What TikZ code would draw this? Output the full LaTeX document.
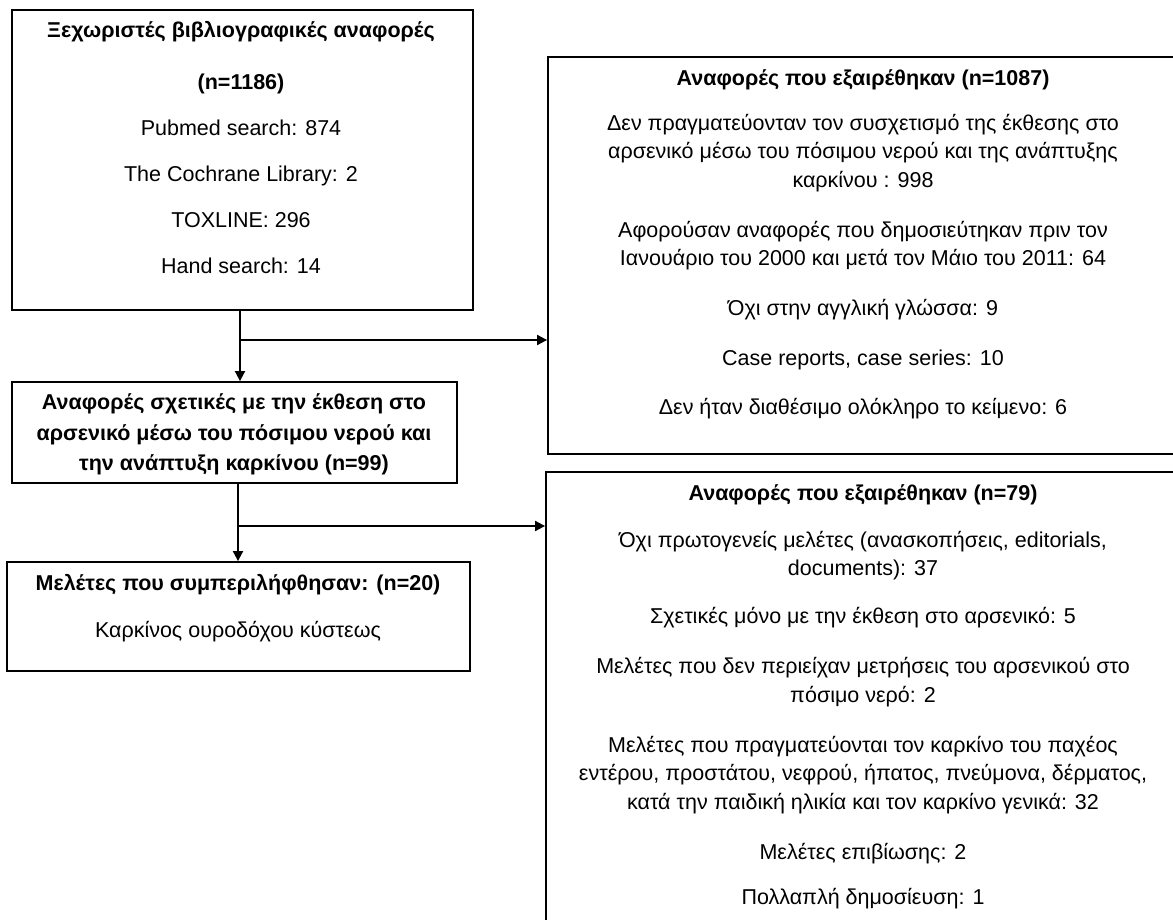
\documentclass[tikz,border=0pt]{standalone}
\usepackage{fontspec}
\setmainfont{Liberation Sans}
\usetikzlibrary{arrows.meta,fit}

\begin{document}
\begin{tikzpicture}[
    x=0.5pt, y=-0.5pt,
    frame/.style={draw, line width=0.9pt, inner sep=0pt},
    txt/.style={anchor=north, align=center, inner sep=0pt,
                font=\fontsize{10.75}{14.25}\selectfont},
    flow/.style={line width=0.9pt, -{Triangle[length=5pt,width=5pt]}},
    ]
    \useasboundingbox (0,0) rectangle (1173,920);

    % Frames
    \node[frame, fit={(12,10) (473,310)}] (src) {};
    \node[frame, fit={(12,382) (457,483)}] (rel) {};
    \node[frame, fit={(7,562) (470,671)}] (inc) {};
    \node[frame, fit={(548,57) (1180,454)}] (excl1) {};
    \node[frame, fit={(546,472) (1180,940)}] (excl2) {};

    % Records identified
    \node[txt] (srctxt) at (241,17) {\strut\textbf{Ξεχωριστές βιβλιογραφικές αναφορές}\\[11.75pt]
        \textbf{(n=1186)}\\[8.75pt]
        Pubmed search: 874\\[8.75pt]
        The Cochrane Library: 2\\[8.75pt]
        TOXLINE: 296\\[8.75pt]
        Hand search: 14};

    % Relevant records
    \node[txt, font=\fontsize{10.75}{15.25}\selectfont\bfseries] (reltxt) at (234,388)
        {\strut Αναφορές σχετικές με την έκθεση στο\\
         αρσενικό μέσω του πόσιμου νερού και\\
         την ανάπτυξη καρκίνου (n=99)};

    % Included studies
    \node[txt] (inctxt) at (238,570) {\strut\textbf{Μελέτες που συμπεριλήφθησαν: (n=20)}\\[9.25pt]
        Καρκίνος ουροδόχου κύστεως};

    % First exclusion
    \node[txt] (excl1txt) at (863,65) {\strut\textbf{Αναφορές που εξαιρέθηκαν (n=1087)}\\[8.25pt]
        Δεν πραγματεύονταν τον συσχετισμό της έκθεσης στο\\
        αρσενικό μέσω του πόσιμου νερού και της ανάπτυξης\\
        καρκίνου : 998\\[10.75pt]
        Αφορούσαν αναφορές που δημοσιεύτηκαν πριν τον\\
        Ιανουάριο του 2000 και μετά τον Μάιο του 2011: 64\\[10.75pt]
        Όχι στην αγγλική γλώσσα: 9\\[10.75pt]
        Case reports, case series: 10\\[10.25pt]
        Δεν ήταν διαθέσιμο ολόκληρο το κείμενο: 6};

    % Second exclusion
    \node[txt] (excl2txt) at (863,480) {\strut\textbf{Αναφορές που εξαιρέθηκαν (n=79)}\\[9.25pt]
        Όχι πρωτογενείς μελέτες (ανασκοπήσεις, editorials,\\
        documents): 37\\[9.75pt]
        Σχετικές μόνο με την έκθεση στο αρσενικό: 5\\[10.75pt]
        Μελέτες που δεν περιείχαν μετρήσεις του αρσενικού στο\\
        πόσιμο νερό: 2\\[10.75pt]
        Μελέτες που πραγματεύονται τον καρκίνο του παχέος\\
        εντέρου, προστάτου, νεφρού, ήπατος, πνεύμονα, δέρματος,\\
        κατά την παιδική ηλικία και τον καρκίνο γενικά: 32\\[10.75pt]
        Μελέτες επιβίωσης: 2\\[8.25pt]
        Πολλαπλή δημοσίευση: 1};

    % Connectors
    \coordinate (fork1) at (240,340);
    \coordinate (fork2) at (238,526);
    \draw[flow] (src.south -| fork1) -- (rel.north -| fork1);
    \draw[flow] (fork1) -- (excl1.west |- fork1);
    \draw[flow] (rel.south -| fork2) -- (inc.north -| fork2);
    \draw[flow] (fork2) -- (excl2.west |- fork2);
\end{tikzpicture}
\end{document}
